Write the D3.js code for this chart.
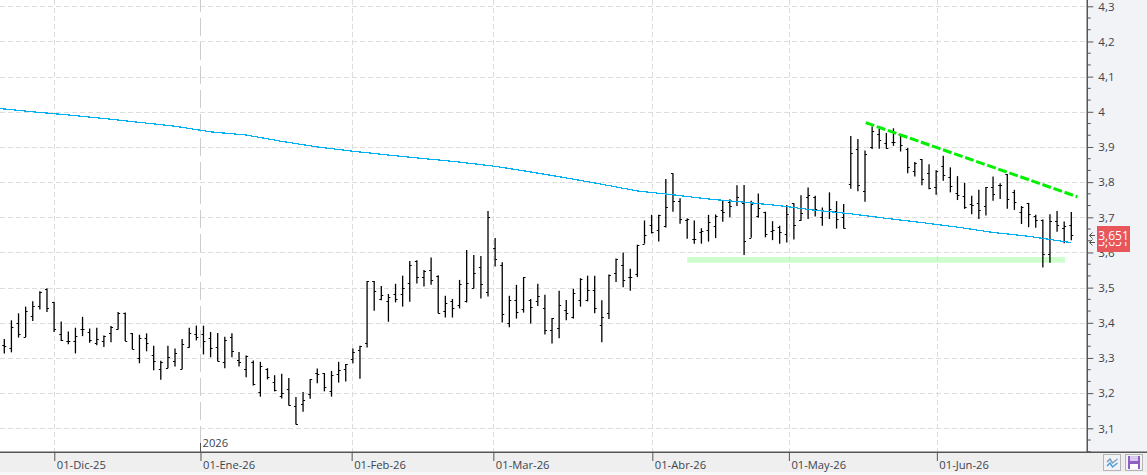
<!DOCTYPE html>
<html>
<head>
<meta charset="utf-8">
<style>
  html, body { margin: 0; padding: 0; background: #fff; overflow: hidden; }
  svg { display: block; }
  text { font-family: "Open Sans", "Noto Sans", sans-serif; }
</style>
<script src="https://cdn.jsdelivr.net/npm/d3@7/dist/d3.min.js"></script>
</head>
<body>
<svg id="chart" width="1147" height="475"></svg>
<script>
// Daily OHLC prices, one entry per trading session
const opens = [3.336,3.329,3.400,3.359,3.420,3.449,3.495,3.460,3.367,3.347,3.348,3.383,3.374,3.343,3.348,3.371,3.383,3.428,3.370,3.300,3.357,3.308,3.269,3.272,3.292,3.269,3.331,
  3.367,3.369,3.357,3.331,3.289,3.360,3.294,3.269,3.289,3.203,3.269,3.231,3.191,3.211,3.163,3.169,3.197,3.257,3.257,3.206,3.254,3.269,3.297,3.322,
  3.342,3.518,3.467,3.463,3.481,3.481,3.513,3.575,3.530,3.550,3.533,3.433,3.462,3.450,3.461,3.499,3.558,3.487,3.612,3.564,3.399,3.464,3.439,3.465,3.462,3.442,3.379,3.385,3.435,3.416,3.464,3.464,3.493,
  3.395,3.429,3.543,3.563,3.531,3.540,3.625,
  3.678,3.663,3.676,3.825,3.747,3.691,3.639,3.657,3.663,3.674,3.722,3.744,3.745,3.740,3.642,3.703,3.716,3.662,3.671,3.653,3.740,3.691,3.757,3.759,3.701,3.719,3.717,3.700,
  3.796,3.893,3.776,3.901,3.937,3.910,3.913,3.937,3.895,3.833,3.866,3.825,3.786,3.846,3.816,3.768,
  3.761,3.737,3.740,3.733,3.785,3.791,3.823,3.771,3.716,3.741,3.703,3.691,3.595,3.690,3.669,3.677];
const highs = [3.354,3.407,3.427,3.446,3.461,3.490,3.498,3.460,3.404,3.375,3.386,3.417,3.384,3.386,3.364,3.391,3.431,3.429,3.371,3.366,3.370,3.335,3.292,3.335,3.327,3.354,3.386,
  3.392,3.392,3.374,3.371,3.360,3.370,3.317,3.307,3.293,3.289,3.271,3.251,3.255,3.243,3.189,3.203,3.240,3.270,3.257,3.263,3.289,3.283,3.327,3.335,
  3.519,3.519,3.505,3.482,3.511,3.534,3.576,3.578,3.550,3.586,3.535,3.477,3.468,3.522,3.607,3.593,3.590,3.718,3.641,3.572,3.477,3.508,3.530,3.468,3.511,3.480,3.414,3.491,3.465,3.497,3.527,3.534,3.534,
  3.464,3.537,3.583,3.600,3.554,3.622,3.691,
  3.707,3.707,3.809,3.825,3.754,3.697,3.691,3.669,3.707,3.708,3.747,3.751,3.791,3.792,3.747,3.768,3.716,3.689,3.676,3.735,3.740,3.763,3.785,3.761,3.728,3.771,3.746,3.738,
  3.931,3.923,3.890,3.958,3.951,3.940,3.953,3.937,3.897,3.857,3.866,3.851,3.834,3.875,3.842,3.817,
  3.798,3.761,3.778,3.786,3.816,3.797,3.823,3.778,3.732,3.741,3.707,3.694,3.709,3.718,3.688,3.715];
const lows = [3.313,3.316,3.358,3.359,3.405,3.438,3.431,3.374,3.348,3.339,3.313,3.362,3.343,3.336,3.331,3.345,3.381,3.348,3.325,3.285,3.319,3.265,3.238,3.271,3.276,3.268,3.329,
  3.350,3.310,3.302,3.291,3.271,3.302,3.276,3.245,3.222,3.190,3.239,3.205,3.185,3.165,3.111,3.147,3.184,3.228,3.205,3.190,3.230,3.233,3.285,3.241,
  3.330,3.434,3.464,3.403,3.458,3.446,3.460,3.512,3.503,3.508,3.427,3.415,3.415,3.441,3.458,3.498,3.469,3.475,3.560,3.401,3.387,3.412,3.429,3.398,3.448,3.367,3.341,3.356,3.407,3.412,3.446,3.461,3.427,
  3.345,3.411,3.516,3.501,3.491,3.530,3.625,
  3.654,3.631,3.671,3.716,3.682,3.639,3.625,3.625,3.631,3.641,3.687,3.700,3.732,3.593,3.642,3.699,3.643,3.635,3.625,3.628,3.637,3.690,3.695,3.702,3.676,3.695,3.668,3.668,
  3.781,3.774,3.744,3.894,3.895,3.895,3.903,3.887,3.825,3.816,3.791,3.780,3.764,3.804,3.771,3.749,
  3.724,3.709,3.695,3.705,3.747,3.752,3.724,3.721,3.681,3.672,3.670,3.557,3.571,3.659,3.626,3.635];
const closes = [3.334,3.389,3.369,3.433,3.449,3.489,3.443,3.383,3.351,3.348,3.363,3.383,3.351,3.355,3.362,3.389,3.429,3.349,3.326,3.357,3.343,3.291,3.289,3.303,3.314,3.341,3.371,
  3.360,3.349,3.329,3.291,3.351,3.320,3.289,3.306,3.226,3.277,3.246,3.209,3.200,3.166,3.112,3.180,3.239,3.254,3.218,3.251,3.266,3.282,3.317,3.334,
  3.518,3.490,3.479,3.473,3.467,3.499,3.564,3.530,3.548,3.521,3.428,3.456,3.442,3.511,3.513,3.541,3.510,3.700,3.581,3.425,3.464,3.430,3.530,3.445,3.476,3.379,3.413,3.450,3.427,3.484,3.525,3.493,3.441,
  3.417,3.537,3.582,3.523,3.531,3.622,3.651,
  3.659,3.707,3.728,3.747,3.694,3.694,3.637,3.662,3.686,3.705,3.716,3.732,3.757,3.633,3.737,3.726,3.653,3.665,3.657,3.708,3.677,3.713,3.762,3.724,3.717,3.725,3.694,3.669,
  3.882,3.791,3.879,3.945,3.919,3.897,3.913,3.905,3.842,3.855,3.808,3.783,3.832,3.820,3.788,3.763,
  3.729,3.735,3.720,3.785,3.765,3.793,3.753,3.743,3.730,3.709,3.691,3.595,3.690,3.678,3.675,3.651];

// Long moving average, read at every fifth session
const maBars = [-1,4,9,14,19,24,29,34,39,44,49,54,59,64,69,74,79,84,89,94,99,104,109,114,119,124,129,134,139,144,150];
const maValues = [4.010,4.000,3.991,3.981,3.970,3.959,3.943,3.934,3.916,3.900,3.888,3.877,3.867,3.857,3.845,3.829,3.812,3.794,3.775,3.764,3.752,3.743,3.733,3.720,3.710,3.697,3.685,3.672,3.657,3.646,3.628];

// Hand-drawn analysis marks: falling resistance and horizontal support band
const resistanceBars = [121.1, 150.85];
const resistanceValues = [3.969, 3.7585];
const supportBars = [96, 149.1];
const supportValues = [3.587, 3.571];

// Date axis, expressed in session positions (month starts may fall on non-trading days)
const monthBars = [7.03, 27.58, 48.83, 68.75, 91.1, 110.3, 131.1];
const monthLabels = ["01-Dic-25", "01-Ene-26", "01-Feb-26", "01-Mar-26", "01-Abr-26", "01-May-26", "01-Jun-26"];
const yearBar = 27.58;
const yearLabel = "2026";

const priceTicks = [3.1,3.2,3.3,3.4,3.5,3.6,3.7,3.8,3.9,4.0,4.1,4.2,4.3];
const lastPrice = 3.651;

const W = 1147, plotRight = 1087, plotBottom = 452;
const x = d3.scaleLinear().domain([0, 150]).range([4.3, 1071.3]);
const y = d3.scaleLinear().domain([3.1, 4.3]).range([428.3, 6.3]);
const svg = d3.select("#chart");
const comma = v => String(+v.toFixed(3)).replace(".", ",");

// Panels behind the plot
svg.append("rect").attr("x", plotRight).attr("y", 0).attr("width", W - plotRight).attr("height", plotBottom).attr("fill", "#f2f3f7");
svg.append("rect").attr("x", 0).attr("y", plotBottom).attr("width", W).attr("height", 20).attr("fill", "#efefef");
svg.append("rect").attr("x", 0).attr("y", plotBottom + 20).attr("width", W).attr("height", 3).attr("fill", "#f8f8f8");

svg.append("defs").append("clipPath").attr("id", "plot-clip")
  .append("rect").attr("width", plotRight).attr("height", plotBottom);
const plot = svg.append("g").attr("clip-path", "url(#plot-clip)");

// Support band
plot.append("rect")
  .attr("x", x(supportBars[0]))
  .attr("y", y(supportValues[0]))
  .attr("width", x(supportBars[1]) - x(supportBars[0]))
  .attr("height", y(supportValues[1]) - y(supportValues[0]))
  .attr("fill", "#ccffcc");

// Grid
plot.append("g").selectAll("line").data(priceTicks).join("line")
  .attr("x1", 0).attr("x2", plotRight)
  .attr("y1", d => Math.round(y(d)) + 0.5).attr("y2", d => Math.round(y(d)) + 0.5)
  .attr("stroke", "#dddddd").attr("stroke-dasharray", "5 3");
plot.append("g").selectAll("line").data(monthBars.filter(d => d !== yearBar)).join("line")
  .attr("x1", d => Math.round(x(d)) + 0.5).attr("x2", d => Math.round(x(d)) + 0.5)
  .attr("y1", 0).attr("y2", plotBottom)
  .attr("stroke", "#dddddd").attr("stroke-dasharray", "5 3");
plot.append("line")
  .attr("x1", Math.round(x(yearBar)) + 0.5).attr("x2", Math.round(x(yearBar)) + 0.5)
  .attr("y1", 0).attr("y2", plotBottom)
  .attr("stroke", "#cccccc").attr("stroke-dasharray", "18 6").attr("stroke-dashoffset", 6);

// OHLC bars: stem from low to high, open tick to the left, close tick to the right
const bars = plot.append("g").attr("stroke", "#000");
const sessions = d3.range(opens.length);
bars.selectAll("line.stem").data(sessions).join("line").attr("class", "stem")
  .attr("x1", d => x(d)).attr("x2", d => x(d))
  .attr("y1", d => y(highs[d])).attr("y2", d => y(lows[d]))
  .attr("stroke-width", 1.3);
bars.selectAll("line.open").data(sessions).join("line").attr("class", "open")
  .attr("x1", d => x(d) - 2).attr("x2", d => x(d))
  .attr("y1", d => Math.round(y(opens[d])) + 0.5).attr("y2", d => Math.round(y(opens[d])) + 0.5);
bars.selectAll("line.close").data(sessions).join("line").attr("class", "close")
  .attr("x1", d => x(d)).attr("x2", d => x(d) + 2)
  .attr("y1", d => Math.round(y(closes[d])) + 0.5).attr("y2", d => Math.round(y(closes[d])) + 0.5);

// Moving average
const maLine = d3.line().x(d => x(d[0])).y(d => y(d[1]));
plot.append("path")
  .attr("d", maLine(d3.zip(maBars, maValues)))
  .attr("fill", "none").attr("stroke", "#00b0f0").attr("stroke-width", 1.2)
  .attr("shape-rendering", "crispEdges");

// Resistance trend line
plot.append("path")
  .attr("d", maLine(d3.zip(resistanceBars, resistanceValues)))
  .attr("fill", "none").attr("stroke", "#00f000").attr("stroke-width", 3)
  .attr("stroke-dasharray", "9 2.7");

// Price axis on the right
const yAxis = svg.append("g").attr("transform", `translate(${plotRight + 0.25},0)`);
const axisY = d3.axisRight(y).tickValues(priceTicks).tickFormat(comma).tickSize(6).tickPadding(5);
yAxis.call(axisY);
yAxis.select(".domain").remove();
yAxis.selectAll("line").attr("stroke", "#555");
yAxis.selectAll("text").attr("font-size", 11.6).attr("fill", "#3c4450")
  .attr("font-family", '"Open Sans", sans-serif');
yAxis.selectAll("g.minor").data(d3.range(-2, 36).filter(k => k % 3 !== 0)).join("line")
  .attr("x1", 0).attr("x2", 3.5)
  .attr("y1", k => y(3.1) + (y(3.2) - y(3.1)) * k / 3)
  .attr("y2", k => y(3.1) + (y(3.2) - y(3.1)) * k / 3)
  .attr("stroke", "#555");
svg.append("line")
  .attr("x1", plotRight + 0.25).attr("x2", plotRight + 0.25).attr("y1", 0).attr("y2", plotBottom)
  .attr("stroke", "#555").attr("stroke-width", 1.5);

// Date axis along the bottom
const xAxisGroup = svg.append("g").attr("transform", `translate(0,${plotBottom})`);
const axisX = d3.axisBottom(x).tickValues(monthBars).tickFormat((d, i) => monthLabels[i]).tickSize(9).tickPadding(0);
xAxisGroup.call(axisX);
xAxisGroup.select(".domain").remove();
xAxisGroup.selectAll("line").attr("stroke", "#555");
xAxisGroup.selectAll("text")
  .attr("text-anchor", "start").attr("x", 2).attr("y", 13).attr("dy", "0.32em")
  .attr("font-size", 11.2).attr("fill", "#3c4450");
svg.append("line")
  .attr("x1", 0).attr("x2", W).attr("y1", plotBottom + 0.25).attr("y2", plotBottom + 0.25)
  .attr("stroke", "#555").attr("stroke-width", 1.5);

// Year marker above the date axis
svg.append("line")
  .attr("x1", Math.round(x(yearBar)) + 0.5).attr("x2", Math.round(x(yearBar)) + 0.5)
  .attr("y1", 443).attr("y2", plotBottom)
  .attr("stroke", "#555");
svg.append("text").attr("x", x(yearBar) + 2).attr("y", 443).attr("dy", "0.32em")
  .attr("font-size", 11.2).attr("fill", "#3c4450").text(yearLabel);

// Last price flag, with the hidden second label peeking out below it
const flag = svg.append("g");
const arrow = yy => `M1095,${yy}H1089.5M1092.5,${yy - 3}L1089.5,${yy}L1092.5,${yy + 3}`;
flag.append("path").attr("d", arrow(235.5) + arrow(242.5)).attr("fill", "none").attr("stroke", "#555");
flag.append("rect").attr("x", 1097).attr("y", 226).attr("width", 33).attr("height", 26).attr("fill", "#e8565c");
flag.append("text").attr("x", 1113.5).attr("y", 242.5).attr("dy", "0.32em").attr("text-anchor", "middle")
  .attr("font-size", 12).attr("fill", "#fff").text(comma(lastPrice));
flag.append("rect").attr("x", 1097).attr("y", 226).attr("width", 33).attr("height", 16).attr("fill", "#e8565c");
flag.append("text").attr("x", 1113.5).attr("y", 236).attr("dy", "0.32em").attr("text-anchor", "middle")
  .attr("font-size", 12).attr("fill", "#fff").text(comma(lastPrice));

// Toolbar buttons at the lower right corner
const tools = svg.append("g");
tools.append("rect").attr("x", 1103.5).attr("y", 454.5).attr("width", 17).attr("height", 16)
  .attr("fill", "#f2f3f7").attr("stroke", "#b5b5b5");
tools.append("path").attr("d", "M1107,462L1110,459L1112.5,463L1117.5,459").attr("fill", "none").attr("stroke", "#7f9fb8").attr("stroke-width", 1.5);
tools.append("path").attr("d", "M1107,466L1110,463L1112.5,467L1117.5,463").attr("fill", "none").attr("stroke", "#4aa0dc").attr("stroke-width", 1.5);
tools.append("rect").attr("x", 1125.5).attr("y", 454.5).attr("width", 17).attr("height", 16)
  .attr("fill", "#f2f3f7").attr("stroke", "#b5b5b5");
tools.append("rect").attr("x", 1128).attr("y", 456).attr("width", 12).attr("height", 13).attr("fill", "#8c5fc0");
tools.append("rect").attr("x", 1130).attr("y", 456).attr("width", 8).attr("height", 5).attr("fill", "#d9c8ee");
tools.append("rect").attr("x", 1130).attr("y", 464).attr("width", 8).attr("height", 5).attr("fill", "#ffffff");
</script>
</body>
</html>
